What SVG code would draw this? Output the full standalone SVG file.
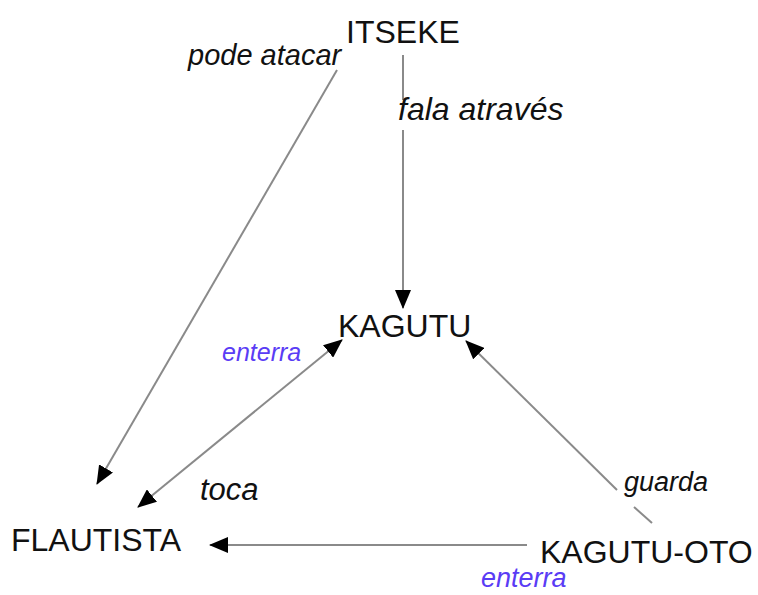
<svg xmlns="http://www.w3.org/2000/svg" width="758" height="595" viewBox="0 0 758 595">
<style>
.node{font-family:"Liberation Sans",Arial,sans-serif;font-size:32px;fill:#111}
.lbl{font-family:"Liberation Sans",Arial,sans-serif;font-style:italic;fill:#111}
.blue{fill:#5a3cf5}
.edge{stroke:#8a8a8a;stroke-width:2;fill:none}
</style>
<defs>
<marker id="ah" markerUnits="userSpaceOnUse" markerWidth="20" markerHeight="16" refX="18" refY="8" orient="auto-start-reverse" viewBox="0 0 20 16">
<path d="M0,0 L19,8 L0,16 Z" fill="#000"/>
</marker>
</defs>
<rect width="758" height="595" fill="#fff"/>
<g id="connectors">
<line class="edge" x1="337" y1="70" x2="97" y2="484" marker-end="url(#ah)"/>
<line class="edge" x1="403" y1="55" x2="403" y2="100"/>
<line class="edge" x1="403" y1="130" x2="403" y2="308" marker-end="url(#ah)"/>
<line class="edge" x1="138" y1="507" x2="342" y2="340" marker-start="url(#ah)" marker-end="url(#ah)"/>
<line class="edge" x1="617" y1="490" x2="466" y2="341" marker-end="url(#ah)"/>
<line class="edge" x1="634" y1="507" x2="652" y2="523"/>
<line class="edge" x1="527" y1="545" x2="210" y2="545" marker-end="url(#ah)"/>
</g>
<g id="itseke"><text class="node" x="346" y="43">ITSEKE</text></g>
<g id="kagutu"><text class="node" x="338" y="337">KAGUTU</text></g>
<g id="flautista"><text class="node" x="11" y="551">FLAUTISTA</text></g>
<g id="kagutu-oto"><text class="node" x="540" y="563" font-size="32.5">KAGUTU-OTO</text></g>
<g id="labels">
<text class="lbl" x="188" y="65" font-size="29">pode atacar</text>
<text class="lbl" x="398" y="120" font-size="32">fala através</text>
<text class="lbl blue" x="222" y="361" font-size="25">enterra</text>
<text class="lbl" x="200" y="500" font-size="31">toca</text>
<text class="lbl" x="624" y="491" font-size="27">guarda</text>
<text class="lbl blue" x="481" y="587" font-size="27">enterra</text>
</g>
</svg>
